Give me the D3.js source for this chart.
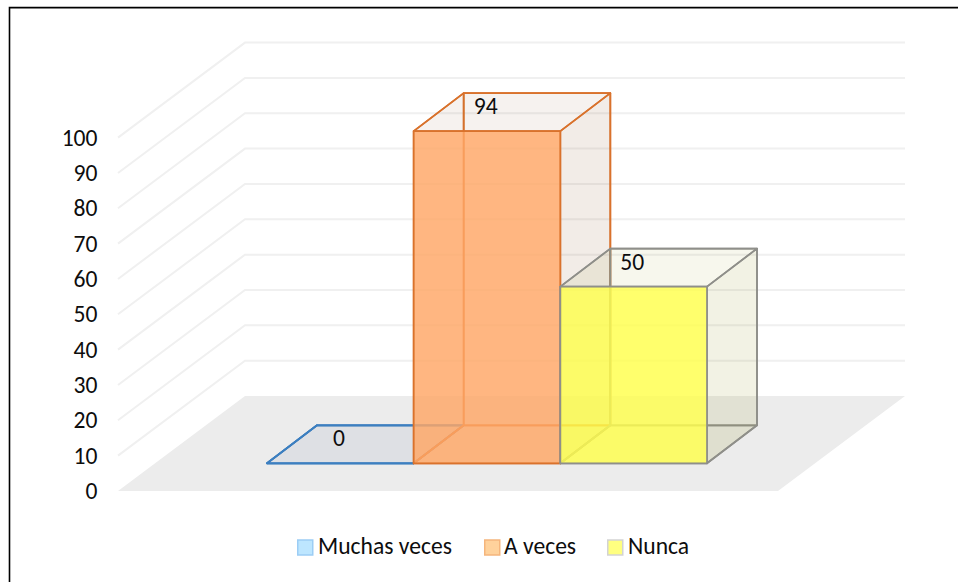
<!DOCTYPE html>
<html><head><meta charset="utf-8">
<style>html,body{margin:0;padding:0;background:#fff}svg{display:block}text{font-family:Carlito,Lato,"Liberation Sans",sans-serif;fill:#0d0d0d}</style>
<script src="https://cdn.jsdelivr.net/npm/d3@7/dist/d3.min.js"></script></head><body>
<script>
const categories = ["Muchas veces","A veces","Nunca"];
const values = [0,94,50];
const ticks = [0,10,20,30,40,50,60,70,80,90,100];
const strokes = ["#3c7fc0","#d9722c","#8f8f8a"];
const fronts = ["#cfe6f7","#ffa766","#ffff4d"];
const sideFills = ["#5f7f9f","#945f37","#8e8e1c"];
const topFills = ["#5f7f9f","#916941","#9b9b23"];
const legendFill = ["#bde6ff","#ffd29c","#ffff80"];
const legendStroke = ["#9ccdf5","#f5b57c","#d3d3d3"];
const legendSwatchX = [297,484,607];
const legendTextX = [318,504,628];

const W=958,H=582;
const svg=d3.select("body").append("svg").attr("width",W).attr("height",H);
const line=d3.line();
// frame: only the top and left edges are inside the picture
svg.append("path").attr("d",line([[9.5,H],[9.5,7.6],[W,7.6]])).attr("fill","none").attr("stroke","#000").attr("stroke-width",1.6);

const y=d3.scaleLinear().domain([0,100]).range([491,137.6]);
const x=d3.scaleBand().domain(categories).range([267,707]);
const dx=127, dy=-95;        // wall depth
const bdx=50, bdy=-38;       // bar depth
const lift=-27.7;            // bar base relative to floor front
const floorL=118, floorW=660;

// floor
svg.append("path").attr("d",line([[floorL,y(0)],[floorL+floorW,y(0)],[floorL+floorW+dx,y(0)+dy],[floorL+dx,y(0)+dy]])+"Z").attr("fill","#ececec");
// gridlines
ticks.filter(t=>t>0).forEach(t=>{
  svg.append("path").attr("d",line([[floorL,y(t)],[floorL+dx,y(t)+dy],[floorL+dx+floorW,y(t)+dy]])).attr("fill","none").attr("stroke","#f0f0f0").attr("stroke-width",2);
});
// tick labels
svg.selectAll("text.tick").data(ticks).enter().append("text").attr("class","tick")
  .attr("x",97.5).attr("y",d=>y(d)+8).attr("text-anchor","end").attr("font-size",23.6).text(d=>d);

// bars
categories.forEach((c,i)=>{
  const v=values[i], x0=x(c), x1=x0+x.bandwidth();
  const b=y(0)+lift, t=y(v)+lift;
  const s=strokes[i];
  const g=svg.append("g");
  const poly=(pts,fill,op)=>g.append("path").attr("d",line(pts)+"Z").attr("fill",fill).attr("fill-opacity",op)
     .attr("stroke",s).attr("stroke-width",1.7).attr("stroke-linejoin","round");
  poly([[x0+bdx,b+bdy],[x1+bdx,b+bdy],[x1+bdx,t+bdy],[x0+bdx,t+bdy]],topFills[i],0.03);
  poly([[x0,b],[x1,b],[x1+bdx,b+bdy],[x0+bdx,b+bdy]],sideFills[i],0.05);
  poly([[x0,b],[x0+bdx,b+bdy],[x0+bdx,t+bdy],[x0,t]],sideFills[i],0.03);
  poly([[x1,b],[x1+bdx,b+bdy],[x1+bdx,t+bdy],[x1,t]],sideFills[i],0.09);
  poly([[x0,t],[x1,t],[x1+bdx,t+bdy],[x0+bdx,t+bdy]],topFills[i],0.05);
  poly([[x0,b],[x1,b],[x1,t],[x0,t]],fronts[i],v>0?0.82:0);
  svg.append("text").attr("x",x0+bdx+22).attr("y",t+bdy+21).attr("text-anchor","middle").attr("font-size",23.6).text(v);
});

// legend
categories.forEach((c,i)=>{
  svg.append("rect").attr("x",legendSwatchX[i]+.75).attr("y",540).attr("width",15).attr("height",15)
    .attr("fill",legendFill[i]).attr("stroke",legendStroke[i]).attr("stroke-width",1.5);
  svg.append("text").attr("x",legendTextX[i]).attr("y",554).attr("font-size",23.6).text(c);
});
</script></body></html>
